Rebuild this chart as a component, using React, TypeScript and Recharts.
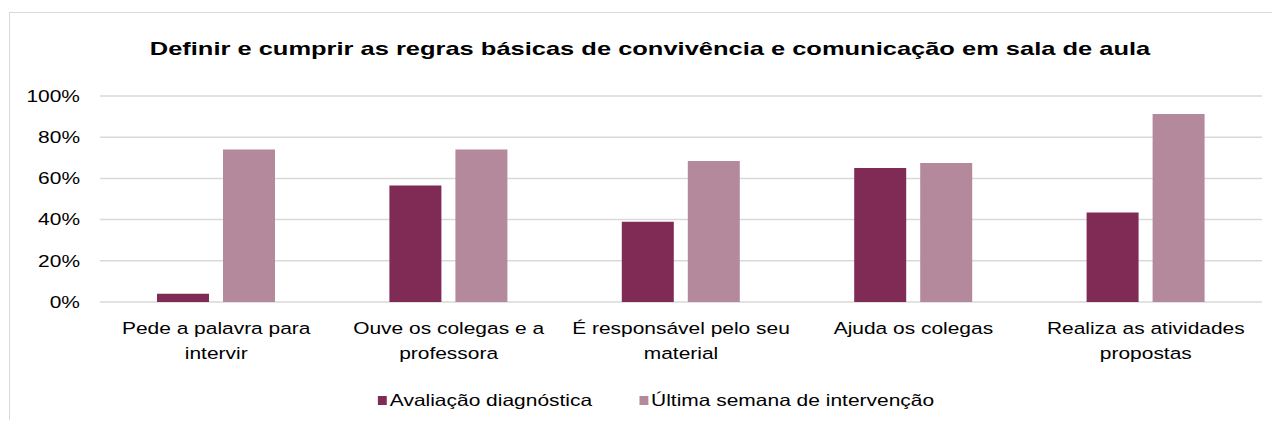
import { BarChart, Bar, XAxis, YAxis, CartesianGrid, Legend, Text } from "recharts";

const categories = [
  "Pede a palavra para intervir",
  "Ouve os colegas e a professora",
  "É responsável pelo seu material",
  "Ajuda os colegas",
  "Realiza as atividades propostas",
];
const diagnostica = [4, 56.5, 39, 65, 43.5];
const ultimaSemana = [74, 74, 68.5, 67.5, 91.3];
const yTicks = [0, 20, 40, 60, 80, 100];

const seriesNames = ["Avaliação diagnóstica", "Última semana de intervenção"];
const colors = ["#7f2b56", "#b3899b"];

const data = categories.map((name, i) => ({
  name,
  diag: diagnostica[i],
  ultima: ultimaSemana[i],
}));

const font = "'Liberation Sans', Arial, sans-serif";
// the source picture is stretched sideways, so text is widened a bit
const stretch = 1.27;

const CategoryTick = (props: any) => {
  const { x, y, payload } = props;
  return (
    <g transform={`translate(${x},${y}) scale(${stretch},1)`}>
      <Text
        x={0}
        y={0}
        width={190}
        textAnchor="middle"
        verticalAnchor="start"
        lineHeight={25}
        fill="#000"
        style={{ fontSize: 16.5, fontFamily: font }}
      >
        {payload.value}
      </Text>
    </g>
  );
};

const PercentTick = (props: any) => {
  const { x, y, payload } = props;
  return (
    <g transform={`translate(${x},${y}) scale(${stretch},1)`}>
      <text x={0} y={0} dy="0.355em" textAnchor="end" fill="#000" style={{ fontSize: 16.5, fontFamily: font }}>
        {`${payload.value}%`}
      </text>
    </g>
  );
};

const LegendContent = (props: any) => {
  const { payload } = props;
  return (
    <div style={{ display: "flex", justifyContent: "center" }}>
      <div
        style={{
          display: "flex",
          gap: 37,
          fontFamily: font,
          fontSize: 16.5,
          color: "#000",
          transform: `scaleX(${stretch})`,
          transformOrigin: "center",
        }}
      >
        {payload.map((p: any) => (
          <div key={p.value} style={{ display: "flex", alignItems: "center", gap: 2.4 }}>
            <span style={{ display: "inline-block", width: 7, height: 9, background: p.color }} />
            <span>{p.value}</span>
          </div>
        ))}
      </div>
    </div>
  );
};

export default function App() {
  return (
    <div style={{ margin: -8, width: 1280, height: 428, overflow: "hidden", position: "relative", background: "#fff" }}>
      <div
        style={{
          position: "absolute",
          left: 9,
          top: 12,
          width: 1280,
          height: 430,
          borderTop: "1px solid #d9d9d9",
          borderLeft: "1px solid #d9d9d9",
        }}
      />
      <div
        style={{
          position: "absolute",
          left: 0,
          width: 1300,
          top: 38,
          textAlign: "center",
          fontFamily: font,
          fontWeight: "bold",
          fontSize: 19,
          color: "#000",
          transform: "scaleX(1.34)",
          transformOrigin: "650px 0",
        }}
      >
        Definir e cumprir as regras básicas de convivência e comunicação em sala de aula
      </div>
      <div style={{ position: "absolute", left: 0, top: 0 }}>
        <BarChart
          width={1280}
          height={428}
          data={data}
          margin={{ top: 96, right: 18, bottom: 96, left: 0 }}
          barSize={52}
          barGap={14}
        >
          <CartesianGrid vertical={false} stroke="#d9d9d9" strokeWidth={1.5} />
          <XAxis
            dataKey="name"
            axisLine={false}
            tickLine={false}
            tickSize={0}
            tickMargin={20}
            interval={0}
            tick={<CategoryTick />}
          />
          <YAxis
            width={100}
            domain={[0, 100]}
            ticks={yTicks}
            axisLine={false}
            tickLine={false}
            tickSize={0}
            tickMargin={20}
            tick={<PercentTick />}
          />
          <Legend
            verticalAlign="middle"
            align="center"
            content={<LegendContent />}
            wrapperStyle={{ top: 391, left: 0, width: 1311 }}
          />
          <Bar dataKey="diag" name={seriesNames[0]} fill={colors[0]} isAnimationActive={false} />
          <Bar dataKey="ultima" name={seriesNames[1]} fill={colors[1]} isAnimationActive={false} />
        </BarChart>
      </div>
    </div>
  );
}
